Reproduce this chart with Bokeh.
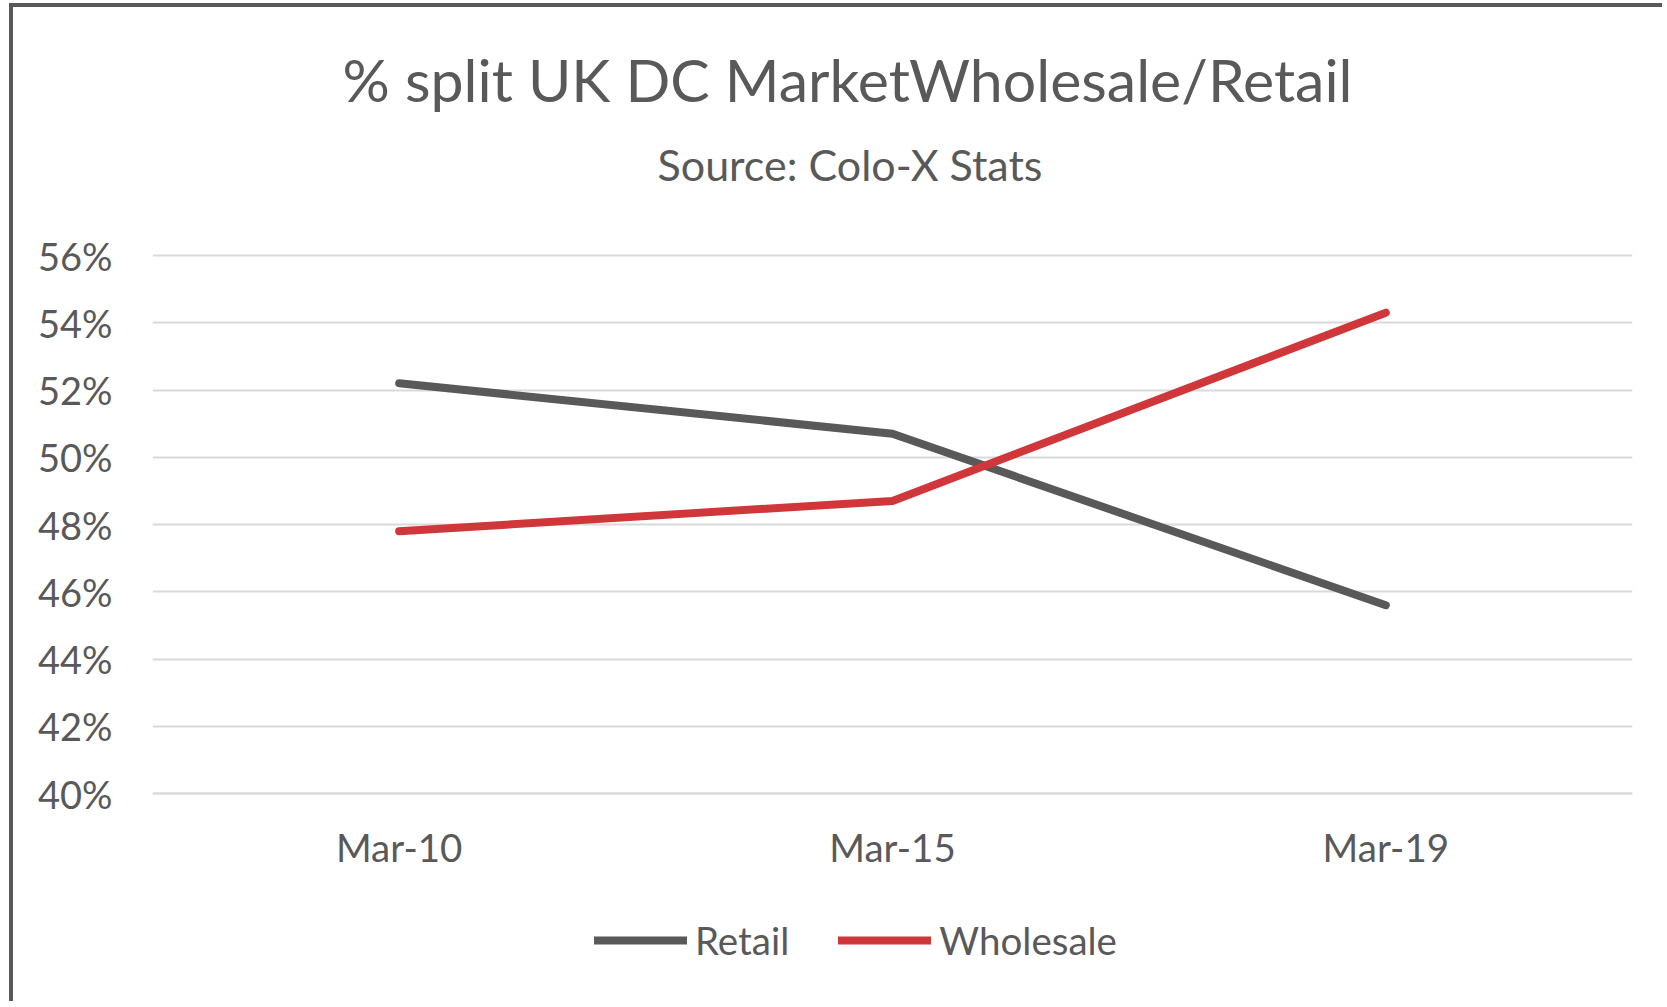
from bokeh.plotting import figure
from bokeh.models import (FactorRange, Range1d, FixedTicker, NumeralTickFormatter,
                          Label, Legend, LegendItem)
from bokeh.embed import file_html
from bokeh.resources import INLINE

# ---- data ----
categories = ["Mar-10", "Mar-15", "Mar-19"]
retail = [0.522, 0.507, 0.456]
wholesale = [0.478, 0.487, 0.543]
y_ticks = [0.40, 0.42, 0.44, 0.46, 0.48, 0.50, 0.52, 0.54, 0.56]
title_text = "% split UK DC MarketWholesale/Retail"
subtitle_text = "Source:  Colo-X Stats"

FONT = "Lato"
TEXT = "#595959"
GRAY_LINE = "#595959"
RED_LINE = "#D0373A"

# value axis: 40%..56% spans 538 px. The frame is extended above (titles) and
# below (category labels, legend) so that all texts sit inside it.
PX_PER_UNIT = 538 / 0.16
y_top = 0.56 + 248 / PX_PER_UNIT
y_bottom = 0.40 - 212 / PX_PER_UNIT

p = figure(width=1653, height=998, x_range=FactorRange(*categories),
           y_range=Range1d(y_bottom, y_top), output_backend="svg",
           toolbar_location=None, title=None,
           min_border_left=139, min_border_right=34,
           min_border_top=0, min_border_bottom=0)
p.outline_line_color = None
p.background_fill_color = "white"
p.border_fill_color = "white"
p.styles = {"border-left": "4px solid #595959", "border-top": "4px solid #595959",
            "margin-left": "9px", "margin-top": "3px"}

# grid
p.xgrid.visible = False
p.ygrid.grid_line_color = "#D9D9D9"
p.ygrid.grid_line_width = 2
p.yaxis.ticker = FixedTicker(ticks=y_ticks)
p.yaxis.formatter = NumeralTickFormatter(format="0%")

for ax in (p.xaxis[0], p.yaxis[0]):
    ax.major_tick_line_color = None
    ax.minor_tick_line_color = None
    ax.major_tick_out = 0
    ax.major_tick_in = 0
    ax.major_label_text_color = TEXT
    ax.major_label_text_font = FONT
p.yaxis.major_label_text_font_size = "38px"
p.xaxis.major_label_text_font_size = "38.5px"
p.yaxis.axis_line_color = None
p.xaxis.fixed_location = 0.40
p.xaxis.axis_line_color = "#D9D9D9"
p.xaxis.axis_line_width = 2
p.yaxis.major_label_standoff = 40
p.xaxis.major_label_standoff = 30

# lines
r1 = p.line(categories, retail, line_width=8, line_color=GRAY_LINE, line_cap="round",
            line_join="round")
r2 = p.line(categories, wholesale, line_width=8, line_color=RED_LINE, line_cap="round",
            line_join="round")

lg = Legend(items=[LegendItem(label="Retail", renderers=[r1]),
                   LegendItem(label="Wholesale", renderers=[r2])],
            orientation="horizontal", location=(442, 42),
            border_line_alpha=0, background_fill_alpha=0, padding=0, margin=0,
            spacing=49, glyph_width=93, glyph_height=30, label_standoff=8,
            label_text_font=FONT, label_text_font_size="38.5px", label_text_color=TEXT)
p.add_layout(lg, "center")

# titles
p.add_layout(Label(x=695, y=926, x_units="screen", y_units="screen", text=title_text,
                   text_align="center", text_baseline="alphabetic", text_font=FONT,
                   text_font_size="59px", text_color=TEXT))
p.add_layout(Label(x=703, y=841, x_units="screen", y_units="screen", text=subtitle_text,
                   text_align="center", text_baseline="alphabetic", text_font=FONT,
                   text_font_size="43px", text_color=TEXT))

open("out.html", "w").write(file_html(p, INLINE))
